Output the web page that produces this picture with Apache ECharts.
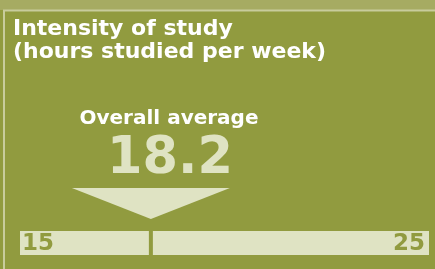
<!DOCTYPE html>
<html>
<head>
<meta charset="utf-8">
<script src="https://cdn.jsdelivr.net/npm/echarts@6/dist/echarts.min.js"></script>
<style>
  html, body { margin: 0; padding: 0; background: #919b3f; }
  #chart { width: 435px; height: 269px; }
</style>
</head>
<body>
<div id="chart"></div>
<script>
// scale ends of the range bar and the overall average
const scaleTicks = [15, 25];
const tickLabels = ['15', '25'];
const averageHours = [18.2];
const averageLabel = ['18.2'];

const olive = '#919b3f';
const beige = '#dfe3c3';
const font = 'DejaVu Sans';

const chart = echarts.init(document.getElementById('chart'));

const avg = averageHours[0];
// two pieces of the bar, split at the average
const trackData = [[scaleTicks[0], avg], [avg, scaleTicks[1]]];
const labelData = scaleTicks.map((v, i) => [v, tickLabels[i]]);

const option = {
  backgroundColor: olive,
  animation: false,
  title: [
    {
      text: 'Intensity of study\n(hours studied per week)',
      left: 13, top: 18, padding: 0,
      textStyle: { color: '#fff', fontFamily: font, fontWeight: 'bold', fontSize: 22, lineHeight: 23 }
    },
    {
      text: 'Overall average',
      left: 169, top: 109, padding: 0, textAlign: 'center',
      textStyle: { color: '#fff', fontFamily: font, fontWeight: 'bold', fontSize: 20 }
    },
    {
      text: averageLabel[0],
      left: 170, top: 134, padding: 0, textAlign: 'center',
      textStyle: { color: beige, fontFamily: font, fontWeight: 'bold', fontSize: 51 }
    }
  ],
  graphic: [
    { type: 'rect', shape: { x: 0, y: 0, width: 435, height: 10 }, style: { fill: '#a6ab62' } },
    { type: 'line', shape: { x1: 3, y1: 10.5, x2: 435, y2: 10.5 }, style: { stroke: '#c8cc9c', lineWidth: 2 } },
    { type: 'line', shape: { x1: 4, y1: 10, x2: 4, y2: 269 }, style: { stroke: '#c8cc9c', lineWidth: 2 } }
  ],
  grid: { left: 20, right: 6, top: 231, height: 24 },
  xAxis: { type: 'value', min: scaleTicks[0], max: scaleTicks[1], show: false },
  yAxis: { type: 'value', min: 0, max: 1, show: false },
  series: [
    {
      name: 'track',
      type: 'custom',
      data: trackData,
      renderItem: function (params, api) {
        const a = api.value(0), b = api.value(1);
        const p0 = api.coord([a, 1]);
        const p1 = api.coord([b, 0]);
        let x0 = p0[0], x1 = p1[0];
        if (a === avg) x0 += 2;
        if (b === avg) x1 -= 2;
        return {
          type: 'rect',
          shape: { x: x0, y: p0[1], width: x1 - x0, height: p1[1] - p0[1] },
          style: { fill: beige }
        };
      }
    },
    {
      name: 'marker',
      type: 'custom',
      clip: false,
      data: averageHours.map(v => [v]),
      renderItem: function (params, api) {
        const p = api.coord([api.value(0), 1]);
        const tipY = p[1] - 12;
        return {
          type: 'polygon',
          shape: { points: [[p[0] - 79, tipY - 31], [p[0] + 79, tipY - 31], [p[0], tipY]] },
          style: { fill: beige }
        };
      }
    },
    {
      name: 'ticks',
      type: 'custom',
      data: labelData,
      renderItem: function (params, api) {
        const v = api.value(0);
        const p = api.coord([v, 0.5]);
        const first = params.dataIndex === 0;
        return {
          type: 'text',
          style: {
            text: tickLabels[params.dataIndex],
            x: first ? p[0] + 2 : p[0] - 4,
            y: p[1] + 1,
            align: first ? 'left' : 'right',
            verticalAlign: 'middle',
            fill: olive,
            font: 'bold 23px "DejaVu Sans"'
          }
        };
      }
    }
  ]
};

chart.setOption(option);
</script>
</body>
</html>
